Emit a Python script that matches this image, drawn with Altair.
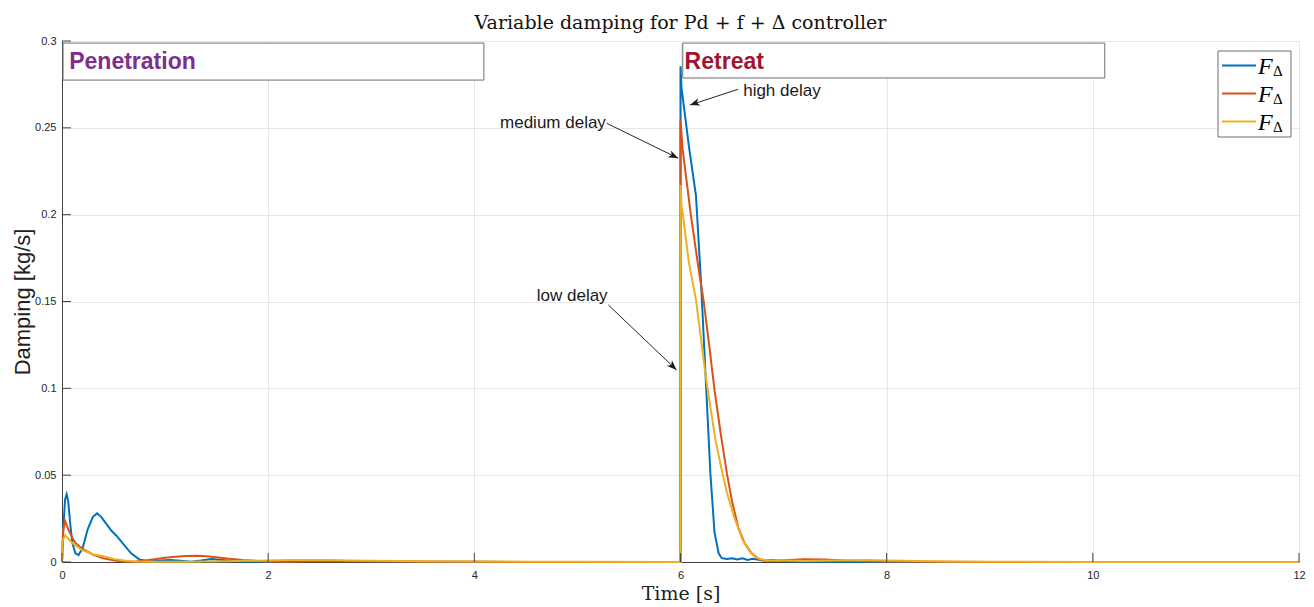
import math
import altair as alt
import pandas as pd

# ---------------- data ----------------
t_high = [0, 0.015, 0.03, 0.045, 0.06, 0.08, 0.1, 0.13, 0.16, 0.2, 0.25, 0.3, 0.34, 0.38, 0.43, 0.48,
          0.53, 0.6, 0.67, 0.75, 0.85, 0.95, 1.05, 1.15, 1.25, 1.35, 1.45, 1.55, 1.7, 1.85, 2.0, 2.2,
          2.4, 2.7, 3.0, 3.5, 4.0, 5.0, 5.999, 6.0, 6.01, 6.08, 6.15, 6.2, 6.25, 6.29, 6.33, 6.37,
          6.4, 6.45, 6.5, 6.55, 6.6, 6.65, 6.7, 6.8, 6.9, 7.0, 7.2, 7.5, 8.0, 9.0, 10.0, 11.0, 12.0]
v_high = [0, 0.022, 0.036, 0.039, 0.035, 0.022, 0.011, 0.005, 0.004, 0.008, 0.019, 0.026, 0.028, 0.026,
          0.022, 0.018, 0.015, 0.010, 0.005, 0.0015, 0.0003, 0.0008, 0.0012, 0.0007, 0.0002, 0.0008,
          0.0017, 0.0012, 0.0005, 0.0002, 0.0001, 0.0006, 0.0009, 0.0006, 0.0004, 0.0002, 0.0001, 0, 0,
          0.2855, 0.273, 0.240, 0.211, 0.160, 0.099, 0.051, 0.017, 0.005, 0.0022, 0.0018, 0.0022,
          0.0015, 0.0022, 0.0012, 0.0018, 0.0008, 0.0012, 0.0006, 0.0003, 0.0001, 0, 0, 0, 0, 0]

t_med = [0, 0.01, 0.03, 0.06, 0.1, 0.13, 0.2, 0.3, 0.4, 0.5, 0.58, 0.7, 0.8, 0.9, 1.0, 1.1, 1.2, 1.3,
         1.4, 1.5, 1.6, 1.75, 1.9, 2.0, 2.2, 2.4, 2.6, 3.0, 3.5, 4.0, 5.0, 5.999, 6.0, 6.02, 6.1, 6.175,
         6.225, 6.28, 6.33, 6.39, 6.45, 6.5, 6.56, 6.62, 6.69, 6.75, 6.8, 6.9, 7.0, 7.2, 7.4, 7.6, 7.8,
         8.0, 8.5, 9.0, 10.0, 12.0]
v_med = [0, 0.018, 0.0236, 0.019, 0.014, 0.011, 0.0075, 0.0042, 0.0022, 0.001, 0.0003, 0.0002, 0.0008,
         0.0016, 0.0024, 0.003, 0.0035, 0.0036, 0.0033, 0.0027, 0.002, 0.0012, 0.0006, 0.0003, 0.0002,
         0.0004, 0.0006, 0.0004, 0.0002, 0.0001, 0, 0, 0.2545, 0.238, 0.200, 0.169, 0.150, 0.124, 0.099,
         0.074, 0.051, 0.035, 0.020, 0.011, 0.005, 0.002, 0.001, 0.0006, 0.001, 0.0016, 0.0014, 0.0009,
         0.0005, 0.0003, 0.0001, 0, 0, 0]

t_low = [0, 0.005, 0.03, 0.06, 0.1, 0.19, 0.3, 0.42, 0.5, 0.6, 0.7, 0.8, 1.0, 1.2, 1.4, 1.6, 1.8, 2.0,
         2.2, 2.4, 2.6, 2.8, 3.0, 3.5, 4.0, 4.5, 5.0, 5.999, 6.0, 6.01, 6.02, 6.08, 6.15, 6.2, 6.24, 6.29,
         6.34, 6.4, 6.45, 6.52, 6.6, 6.66, 6.72, 6.78, 6.85, 7.0, 7.2, 7.5, 7.8, 8.0, 8.3, 8.6, 9.0, 10.0,
         12.0]
v_low = [0, 0.012, 0.0155, 0.0135, 0.011, 0.007, 0.0045, 0.003, 0.0018, 0.0008, 0.0003, 0.0001, 0.0001,
         0.0002, 0.0003, 0.0005, 0.0007, 0.0009, 0.0011, 0.0012, 0.0011, 0.0009, 0.0007, 0.0005, 0.0003,
         0.0002, 0.0001, 0, 0.217, 0.205, 0.2017, 0.173, 0.151, 0.128, 0.109, 0.089, 0.070, 0.053, 0.040,
         0.026, 0.013, 0.007, 0.003, 0.0015, 0.001, 0.0008, 0.0006, 0.0009, 0.0011, 0.0009, 0.0006,
         0.0003, 0.0001, 0, 0]

series_names = ["high", "medium", "low"]
series_colors = ["#0072BD", "#D95319", "#EDB120"]
legend_label = "F"
legend_sub = "Δ"

x_ticks = [0, 2, 4, 6, 8, 10, 12]
y_ticks = [0, 0.05, 0.1, 0.15, 0.2, 0.25, 0.3]

box_labels = ["Penetration", "Retreat"]
box_colors = ["#7E2F8E", "#A2142F"]
box_t0 = [0.01, 6.022]
box_t1 = [4.093, 10.116]
box_v0 = [0.2775, 0.2787]
box_v1 = [0.2988, 0.2988]
box_text_t = [0.07, 6.04]
box_text_v = [0.2877, 0.2877]

ann_text = ["high delay", "medium delay", "low delay"]
ann_text_t = [6.608, 5.276, 5.293]
ann_text_v = [0.2714, 0.2526, 0.1532]
ann_align = ["left", "right", "right"]
arrow_t0 = [6.559, 5.285, 5.300]
arrow_v0 = [0.2722, 0.2526, 0.1480]
arrow_t1 = [6.091, 5.978, 5.962]
arrow_v1 = [0.2631, 0.2325, 0.1106]

title_text = "Variable damping for Pd + f + Δ controller"

# ---------------- layout ----------------
W, H = 1237, 521
X_MAX, Y_MAX = 12, 0.3
PX_S = W / X_MAX
PX_V = H / Y_MAX
TICK_LEN = 9
AXIS_COL = "#404040"
TXT_COL = "#262626"

rows = []
for name, ts, vs in zip(series_names, [t_high, t_med, t_low], [v_high, v_med, v_low]):
    for i, (t, v) in enumerate(zip(ts, vs)):
        rows.append({"series": name, "t": t, "v": v, "i": i})
df = pd.DataFrame(rows)

x_scale = alt.Scale(domain=[0, X_MAX], nice=False, zero=False)
y_scale = alt.Scale(domain=[0, Y_MAX], nice=False, zero=False)

x_axis = alt.Axis(values=x_ticks, format="d", title="Time [s]", titleFont="DejaVu Serif",
                  titleFontSize=19, titleFontWeight="normal", titleColor="#222222", titlePadding=4,
                  labelFont="Liberation Sans", labelFontSize=11, labelColor=TXT_COL, labelPadding=7,
                  labelFlush=False, ticks=False, domainColor=AXIS_COL, domainWidth=1,
                  gridColor="#e6e6e6", gridWidth=1)
y_axis = alt.Axis(values=y_ticks, format="~g", title="Damping [kg/s]", titleFont="Liberation Sans",
                  titleFontSize=22, titleFontWeight="normal", titleColor="#222222", titlePadding=0,
                  labelFont="Liberation Sans", labelFontSize=11, labelColor=TXT_COL, labelPadding=6,
                  labelFlush=False, ticks=False, domainColor=AXIS_COL, domainWidth=1,
                  gridColor="#e6e6e6", gridWidth=1)


def X(field):
    return alt.X(field, type="quantitative", scale=x_scale, axis=x_axis)


def Y(field):
    return alt.Y(field, type="quantitative", scale=y_scale, axis=y_axis)


lines = alt.Chart(df).mark_line(strokeWidth=2).encode(
    x=X("t"), y=Y("v"),
    color=alt.Color("series:N", scale=alt.Scale(domain=series_names, range=series_colors), legend=None),
    order=alt.Order("i:Q"),
    detail="series:N",
)

# inward ticks
xt = pd.DataFrame({"t": x_ticks, "v0": [0] * len(x_ticks), "v1": [TICK_LEN / PX_V] * len(x_ticks)})
yt = pd.DataFrame({"v": y_ticks, "t0": [0] * len(y_ticks), "t1": [TICK_LEN / PX_S] * len(y_ticks)})
xticks = alt.Chart(xt).mark_rule(color=AXIS_COL, strokeWidth=1).encode(x=X("t"), y=Y("v0"), y2="v1:Q")
yticks = alt.Chart(yt).mark_rule(color=AXIS_COL, strokeWidth=1).encode(y=Y("v"), x=X("t0"), x2="t1:Q")

# phase boxes
bx = pd.DataFrame({"label": box_labels, "t0": box_t0, "t1": box_t1, "v0": box_v0, "v1": box_v1,
                   "tt": box_text_t, "tv": box_text_v, "col": box_colors})
boxes = alt.Chart(bx).mark_rect(fill="white", stroke="#6e6e6e", strokeWidth=1).encode(
    x=X("t0"), x2="t1:Q", y=Y("v0"), y2="v1:Q")
box_txt = alt.Chart(bx).mark_text(align="left", baseline="middle", font="Liberation Sans",
                                  fontSize=23, fontWeight="bold").encode(
    x=X("tt"), y=Y("tv"), text="label:N",
    color=alt.Color("col:N", scale=None, legend=None))

# annotations with arrows
ang = []
for a, b, c, d in zip(arrow_t0, arrow_v0, arrow_t1, arrow_v1):
    dx = (c - a) * PX_S
    dy = -(d - b) * PX_V
    ang.append(math.degrees(math.atan2(dx, -dy)) % 360)
an = pd.DataFrame({"text": ann_text, "tt": ann_text_t, "tv": ann_text_v, "align": ann_align,
                   "a0": arrow_t0, "b0": arrow_v0, "a1": arrow_t1, "b1": arrow_v1, "ang": ang})
arrows = alt.Chart(an).mark_rule(color="#262626", strokeWidth=1).encode(
    x=X("a0"), x2="a1:Q", y=Y("b0"), y2="b1:Q")
heads = alt.Chart(an).mark_point(shape="M0,0 L0.38,1 L0,0.72 L-0.38,1 Z", filled=True, opacity=1,
                                 color="#1a1a1a", size=400, strokeWidth=0).encode(
    x=X("a1"), y=Y("b1"), angle=alt.Angle("ang:Q", scale=None))
ann_layers = []
for al in ["left", "right"]:
    ann_layers.append(
        alt.Chart(an).transform_filter(alt.datum.align == al).mark_text(
            align=al, baseline="middle", font="Liberation Sans", fontSize=17, color="#1a1a1a").encode(
            x=X("tt"), y=Y("tv"), text="text:N"))

# manual legend (subscripted labels)
one = pd.DataFrame({"k": [0]})
legend_layers = [alt.Chart(one).mark_rect(fill="white", stroke="#6e6e6e", strokeWidth=1).encode(
    x=alt.value(1156), x2=alt.value(1229), y=alt.value(10), y2=alt.value(96))]
for j, col in enumerate(series_colors):
    yy = 24.5 + 28 * j
    legend_layers.append(alt.Chart(one).mark_rule(color=col, strokeWidth=2).encode(
        x=alt.value(1160), x2=alt.value(1194), y=alt.value(yy)))
    legend_layers.append(alt.Chart(one).mark_text(
        align="left", baseline="alphabetic", font="Liberation Serif", fontStyle="italic",
        fontSize=24, color="black", text=legend_label).encode(x=alt.value(1196), y=alt.value(yy + 8)))
    legend_layers.append(alt.Chart(one).mark_text(
        align="left", baseline="alphabetic", font="Liberation Serif",
        fontSize=15, color="black", text=legend_sub).encode(x=alt.value(1211), y=alt.value(yy + 10)))

chart = alt.layer(
    lines, xticks, yticks, boxes, box_txt, arrows, heads, *ann_layers, *legend_layers
).properties(
    width=W, height=H,
    title=alt.TitleParams(title_text, font="DejaVu Serif", fontSize=19, fontWeight="normal",
                          color="#111111", anchor="middle", offset=2),
    autosize=alt.AutoSizeParams(type="none"),
    padding={"left": 54, "top": 33, "right": 7, "bottom": 44},
).configure_view(stroke=None).configure(background="white")

chart.save("out.html", embed_options={"renderer": "svg", "actions": False})
